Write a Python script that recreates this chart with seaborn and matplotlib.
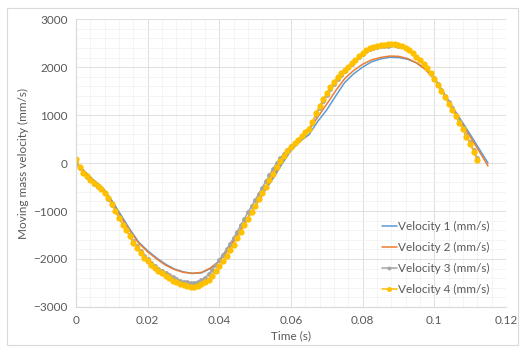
import numpy as np
import matplotlib.pyplot as plt
import seaborn as sns
from matplotlib.patches import Rectangle
from matplotlib.ticker import MultipleLocator

sns.set_style("whitegrid")
plt.rcParams['font.family'] = ['Lato', 'DejaVu Sans']

# time bases (s)
t_12 = [0, 0.0025, 0.005, 0.0075, 0.010, 0.0125, 0.015, 0.0175, 0.020, 0.0225,
        0.025, 0.0275, 0.030, 0.0325, 0.035, 0.0375, 0.040, 0.0425, 0.045, 0.0475,
        0.050, 0.0525, 0.055, 0.0575, 0.060, 0.0625, 0.065, 0.0675, 0.070, 0.0725,
        0.075, 0.0775, 0.080, 0.0825, 0.085, 0.0875, 0.090, 0.0925, 0.095, 0.0975,
        0.100, 0.1025, 0.105, 0.1075, 0.110, 0.1125, 0.115]
t_34 = [i / 1000 for i in range(113)]

# velocities (mm/s)
vel_1 = [0, -180, -360, -520, -780, -1080, -1380, -1650, -1830, -1980,
         -2110, -2210, -2270, -2300, -2290, -2200, -2040, -1790, -1500, -1200,
         -900, -600, -320, -20, 260, 450, 590, 870, 1110, 1400,
         1680, 1860, 2000, 2110, 2170, 2205, 2200, 2165, 2090, 1970,
         1780, 1480, 1180, 890, 600, 300, 0]
vel_2 = [0, -190, -370, -540, -820, -1120, -1410, -1670, -1850, -2000,
         -2130, -2220, -2280, -2300, -2280, -2190, -2040, -1800, -1510, -1200,
         -890, -580, -280, 40, 320, 510, 680, 960, 1230, 1510,
         1760, 1930, 2060, 2150, 2200, 2230, 2225, 2180, 2090, 1950,
         1750, 1460, 1150, 850, 550, 250, -60]
vel_3 = [0, -110, -210, -290, -360, -430, -490, -550, -630, -740,
         -870, -1000, -1140, -1270, -1390, -1510, -1630, -1740, -1840, -1930,
         -2010, -2080, -2140, -2200, -2250, -2300, -2340, -2380, -2420, -2450,
         -2475, -2490, -2500, -2495, -2475, -2440, -2390, -2320, -2230, -2130,
         -2020, -1910, -1800, -1680, -1560, -1430, -1300, -1160, -1030, -900,
         -770, -640, -510, -380, -250, -120, 0, 100, 190, 270,
         350, 420, 490, 560, 630, 710, 840, 1000, 1150, 1290,
         1420, 1540, 1650, 1750, 1840, 1920, 2000, 2070, 2140, 2210,
         2280, 2330, 2370, 2400, 2420, 2435, 2445, 2450, 2455, 2455,
         2450, 2430, 2400, 2350, 2290, 2220, 2150, 2070, 1980, 1880,
         1770, 1650, 1530, 1400, 1270, 1140, 1010, 870, 730, 580,
         430, 270, 100]
vel_4 = [90, -80, -200, -280, -350, -420, -480, -540, -620, -720,
         -860, -1000, -1150, -1290, -1400, -1530, -1670, -1770, -1880, -1970,
         -2050, -2120, -2180, -2250, -2300, -2350, -2400, -2450, -2490, -2520,
         -2550, -2570, -2580, -2575, -2555, -2525, -2490, -2430, -2350, -2250,
         -2150, -2040, -1930, -1820, -1700, -1570, -1440, -1300, -1160, -1020,
         -890, -760, -630, -490, -350, -220, -90, 40, 150, 260,
         340, 420, 490, 570, 640, 720, 860, 1040, 1190, 1330,
         1460, 1580, 1690, 1790, 1870, 1940, 2010, 2080, 2150, 2230,
         2300, 2350, 2390, 2420, 2440, 2455, 2465, 2472, 2478, 2476,
         2465, 2440, 2400, 2350, 2290, 2220, 2150, 2070, 1980, 1870,
         1750, 1620, 1500, 1370, 1240, 1110, 980, 840, 700, 550,
         400, 240, 60]

labels = ['Velocity 1 (mm/s)', 'Velocity 2 (mm/s)', 'Velocity 3 (mm/s)', 'Velocity 4 (mm/s)']
x_ticks = [0, 0.02, 0.04, 0.06, 0.08, 0.1, 0.12]
x_ticklabels = ['0', '0.02', '0.04', '0.06', '0.08', '0.1', '0.12']
colors = ['#5B9BD5', '#ED7D31', '#A5A5A5', '#FFC000']
text_color = '#595959'

fig = plt.figure(figsize=(5.21, 3.48), dpi=100)
ax = fig.add_axes([0.146, 0.118, 0.825, 0.827])

sns.lineplot(x=t_12, y=vel_1, color=colors[0], linewidth=1.1, label=labels[0], ax=ax)
sns.lineplot(x=t_12, y=vel_2, color=colors[1], linewidth=1.1, label=labels[1], ax=ax)
sns.lineplot(x=t_34, y=vel_3, color=colors[2], linewidth=1.1, marker='o', markersize=3.5,
             markeredgewidth=0, label=labels[2], ax=ax)
sns.lineplot(x=t_34, y=vel_4, color=colors[3], linewidth=1.1, marker='o', markersize=4.5,
             markeredgewidth=0, label=labels[3], ax=ax)

# axes
ax.set_xlim(0, 0.12)
ax.set_ylim(-3000, 3000)
ax.set_xticks(x_ticks)
ax.set_xticklabels(x_ticklabels)
ax.xaxis.set_minor_locator(MultipleLocator(0.004))
ax.yaxis.set_major_locator(MultipleLocator(1000))
ax.yaxis.set_minor_locator(MultipleLocator(200))
ax.set_facecolor('white')
ax.grid(True, which='major', color='#E0E0E0', linewidth=0.75)
ax.grid(True, which='minor', color='#F2F2F2', linewidth=0.6)
ax.set_axisbelow(True)
ax.tick_params(axis='both', which='both', length=0, labelsize=8.5, labelcolor=text_color, pad=6)
for side in ['top', 'right']:
    ax.spines[side].set_visible(False)
for side in ['left', 'bottom']:
    ax.spines[side].set_color('#D9D9D9')
    ax.spines[side].set_linewidth(0.8)

ax.set_xlabel('Time (s)', fontsize=8.5, color=text_color, labelpad=3)
ax.set_ylabel('Moving mass velocity (mm/s)', fontsize=8.5, color=text_color, labelpad=3)

ax.legend(loc='lower left', bbox_to_anchor=(0.7, 0.025), frameon=False, fontsize=8.5,
          handlelength=1.3, handletextpad=0.1, labelspacing=0.85, borderaxespad=0,
          labelcolor=text_color, markerscale=0.8)

# chart border
fig.patches.append(Rectangle((0.013, 0.008), 0.982, 0.97, transform=fig.transFigure,
                             fill=False, edgecolor='#D9D9D9', linewidth=0.8))

fig.savefig('out.png', dpi=100)
